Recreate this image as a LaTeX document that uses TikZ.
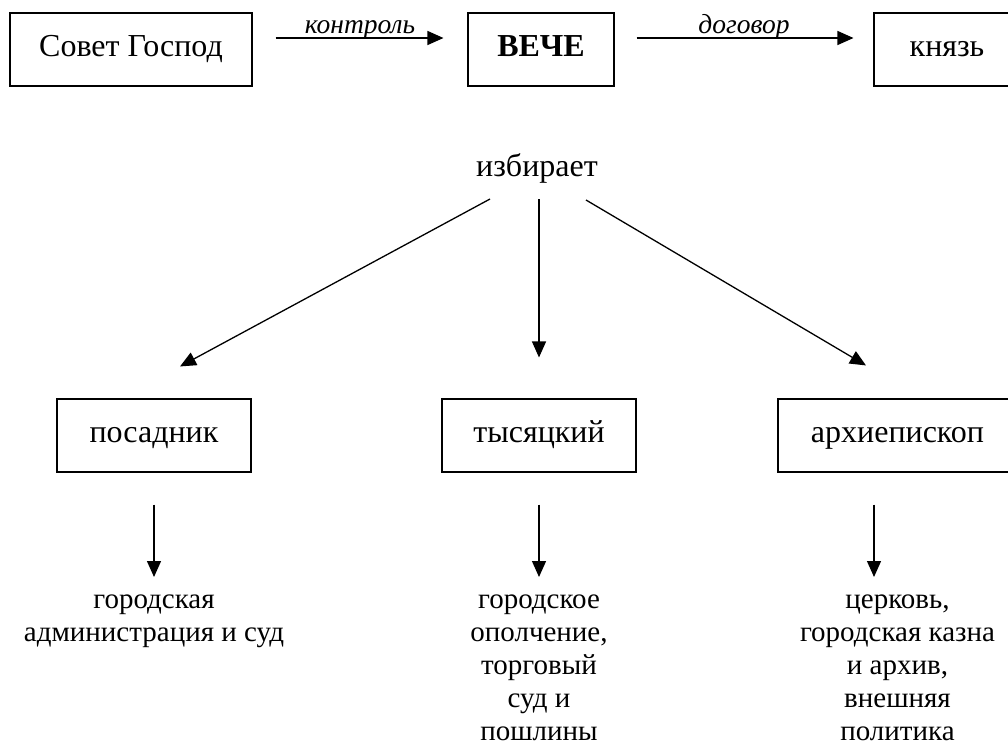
\documentclass[tikz,border=0pt]{standalone}
\usepackage{fontspec}
\setmainfont{Liberation Serif}
\usetikzlibrary{arrows.meta}

\begin{document}
\begin{tikzpicture}[
	x=1pt, y=-1pt,
	every node/.style={font=\fontsize{32}{36}\selectfont},
	box/.style={draw, line width=1.1pt, minimum height=73pt, inner sep=0pt, text height=21pt, text depth=8pt},
	arr/.style={line width=1.3pt, -{Triangle[length=16pt,width=14pt]}},
	lbl/.style={font=\fontsize{27.5}{30}\selectfont\itshape, inner sep=0pt, yshift=-2pt},
	duty/.style={font=\fontsize{29}{33}\selectfont, align=center, anchor=north, inner sep=0pt}
	]
	\useasboundingbox (0,0) rectangle (1008,747);
	\clip (0,0) rectangle (1008,747);
	% top row
	\node[box, minimum width=242pt] (sovet) at (131,49.5) {Совет Господ};
	\node[box, minimum width=146pt] (veche) at (541,49.5) {\textbf{ВЕЧЕ}};
	\node[box, minimum width=146pt] (knyaz) at (947,49.5) {князь};
	\draw[arr, shorten <=23pt, shorten >=24pt] ([yshift=11.5pt]sovet.east) -- node[lbl, above] {контроль} ([yshift=11.5pt]veche.west);
	\draw[arr, shorten <=22pt, shorten >=20pt] ([yshift=11.5pt]veche.east) -- node[lbl, above] {договор} ([yshift=11.5pt]knyaz.west);
	% elected
	\node[anchor=base] (izb) at (537,176) {избирает};
	\node[box, minimum width=194pt] (posadnik) at (154,435.5) {посадник};
	\node[box, minimum width=194pt] (tys) at (539,435.5) {тысяцкий};
	\node[box, minimum width=239pt] (arch) at (897.5,435.5) {архиепископ};
	\draw[arr] ([shift={(-47,23)}]izb.base) -- ([shift={(26,-32)}]posadnik.north);
	\draw[arr] ([shift={(2,23)}]izb.base) -- ([shift={(0,-41)}]tys.north);
	\draw[arr] ([shift={(49,24)}]izb.base) -- ([shift={(-31.5,-33)}]arch.north);
	% duties
	\node[duty] (adm) at (154,585.5) {\strut городская\\администрация и суд};
	\node[duty] (opol) at (539,585.5) {\strut городское\\ополчение,\\торговый\\суд и\\пошлины};
	\node[duty] (church) at (897.5,585.5) {\strut церковь,\\городская казна\\и архив,\\внешняя\\политика};
	\draw[arr, shorten <=32pt, shorten >=8.5pt] (posadnik.south) -- (adm.north);
	\draw[arr, shorten <=32pt, shorten >=8.5pt] (tys.south) -- (opol.north);
	\draw[arr, shorten <=32pt, shorten >=8.5pt] ([xshift=-23.5pt]arch.south) -- ([xshift=-23.5pt]church.north);
\end{tikzpicture}
\end{document}
